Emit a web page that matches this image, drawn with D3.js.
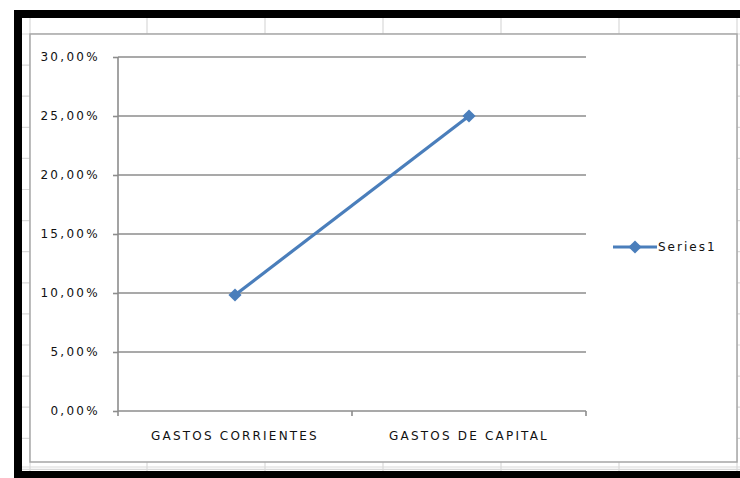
<!DOCTYPE html>
<html>
<head>
<meta charset="utf-8">
<script src="https://cdn.jsdelivr.net/npm/d3@7"></script>
<style>
  html, body { margin: 0; padding: 0; background: #ffffff; }
  svg { display: block; }
  text { font-family: "DejaVu Sans", sans-serif; fill: #111111; }
</style>
</head>
<body>
<script>
// Chart data
const categories = ["GASTOS CORRIENTES", "GASTOS DE CAPITAL"];
const seriesName = "Series1";
const seriesValues = [0.0983, 0.25];
const yTicks = [0, 0.05, 0.10, 0.15, 0.20, 0.25, 0.30];

const W = 740, H = 478;
const svg = d3.select("body").append("svg").attr("width", W).attr("height", H);

// Worksheet cell grid behind the chart object
const sheet = svg.append("g");
const colLines = [147, 265, 383, 501, 619, 737];
const rowLines = d3.range(34, 470, 31.1);
sheet.selectAll("line.col").data(colLines).join("line")
  .attr("x1", d => d).attr("x2", d => d).attr("y1", 18).attr("y2", 472)
  .attr("stroke", "#d9d9d9").attr("stroke-width", 1.2);
sheet.selectAll("line.row").data(rowLines).join("line")
  .attr("x1", 22).attr("x2", W).attr("y1", d => d).attr("y2", d => d)
  .attr("stroke", "#d9d9d9").attr("stroke-width", 1.2);
sheet.append("line").attr("x1", 30).attr("x2", 30).attr("y1", 18).attr("y2", 472)
  .attr("stroke", "#d9d9d9").attr("stroke-width", 1.2);
sheet.append("line").attr("x1", 22).attr("x2", W).attr("y1", 467).attr("y2", 467)
  .attr("stroke", "#d9d9d9").attr("stroke-width", 1.2);

// Chart object box
svg.append("rect").attr("x", 30).attr("y", 34).attr("width", 707).attr("height", 428)
  .attr("fill", "#ffffff").attr("stroke", "#a6a6a6").attr("stroke-width", 1.5);

// Thick black frame around the selection
svg.append("rect").attr("x", 14).attr("y", 10).attr("width", 730).attr("height", 8).attr("fill", "#000");
svg.append("rect").attr("x", 14).attr("y", 10).attr("width", 8).attr("height", 468).attr("fill", "#000");
svg.append("rect").attr("x", 14).attr("y", 471).attr("width", 730).attr("height", 7).attr("fill", "#000");

// Scales
const x = d3.scaleBand().domain(categories).range([118, 586]);
const y = d3.scaleLinear().domain([0, 0.30]).range([411, 57]);
const fmt = v => d3.format(".2f")(v * 100).replace(".", ",") + "%";

// Horizontal gridlines
svg.append("g").selectAll("line").data(yTicks.slice(1)).join("line")
  .attr("x1", x.range()[0]).attr("x2", x.range()[1])
  .attr("y1", d => y(d)).attr("y2", d => y(d))
  .attr("stroke", "#8c8c8c").attr("stroke-width", 1.6);

// Value axis
const yAxis = svg.append("g").attr("transform", `translate(${x.range()[0]},0)`)
  .call(d3.axisLeft(y).tickValues(yTicks).tickFormat(fmt).tickSize(5).tickPadding(13));
yAxis.select(".domain").attr("stroke", "#8c8c8c").attr("stroke-width", 1.6)
  .attr("d", `M0,${y(0.30)}V${y(0) + 5}`);
yAxis.selectAll(".tick line").attr("stroke", "#8c8c8c").attr("stroke-width", 1.6);
yAxis.selectAll(".tick text").attr("font-size", 12).attr("letter-spacing", 2.3)
  .attr("fill", "#111111").attr("font-family", "DejaVu Sans, sans-serif");

// Category axis
const xAxis = svg.append("g").attr("transform", `translate(0,${y(0)})`)
  .call(d3.axisBottom(x).tickSize(0).tickPadding(20));
xAxis.select(".domain").attr("stroke", "#8c8c8c").attr("stroke-width", 1.6)
  .attr("d", `M${x.range()[0]},0H${x.range()[1]}`);
xAxis.selectAll(".tick text").attr("font-size", 12).attr("letter-spacing", 2.2)
  .attr("fill", "#111111").attr("font-family", "DejaVu Sans, sans-serif");
const catBounds = categories.map(c => x(c) + x.bandwidth());
xAxis.append("g").selectAll("line").data(catBounds).join("line")
  .attr("x1", d => d).attr("x2", d => d).attr("y1", 0).attr("y2", 5)
  .attr("stroke", "#8c8c8c").attr("stroke-width", 1.6);

// Series line with diamond markers
const pts = categories.map((c, i) => [x(c) + x.bandwidth() / 2, y(seriesValues[i])]);
svg.append("path").attr("d", d3.line()(pts))
  .attr("fill", "none").attr("stroke", "#4a7ebb").attr("stroke-width", 3.2);
const diamond = d3.symbol().type(d3.symbolDiamond2).size(110);
svg.append("g").selectAll("path").data(pts).join("path")
  .attr("transform", d => `translate(${d[0]},${d[1]})`)
  .attr("d", diamond).attr("fill", "#4a7ebb");

// Legend
const lg = svg.append("g").attr("transform", "translate(613,247)");
lg.append("line").attr("x1", 0).attr("x2", 44).attr("y1", 0).attr("y2", 0)
  .attr("stroke", "#4a7ebb").attr("stroke-width", 3.2);
lg.append("path").attr("transform", "translate(22,0)").attr("d", diamond).attr("fill", "#4a7ebb");
lg.append("text").attr("x", 45).attr("y", 0).attr("dy", "0.35em")
  .attr("font-size", 12).attr("letter-spacing", 2).text(seriesName);
</script>
</body>
</html>
